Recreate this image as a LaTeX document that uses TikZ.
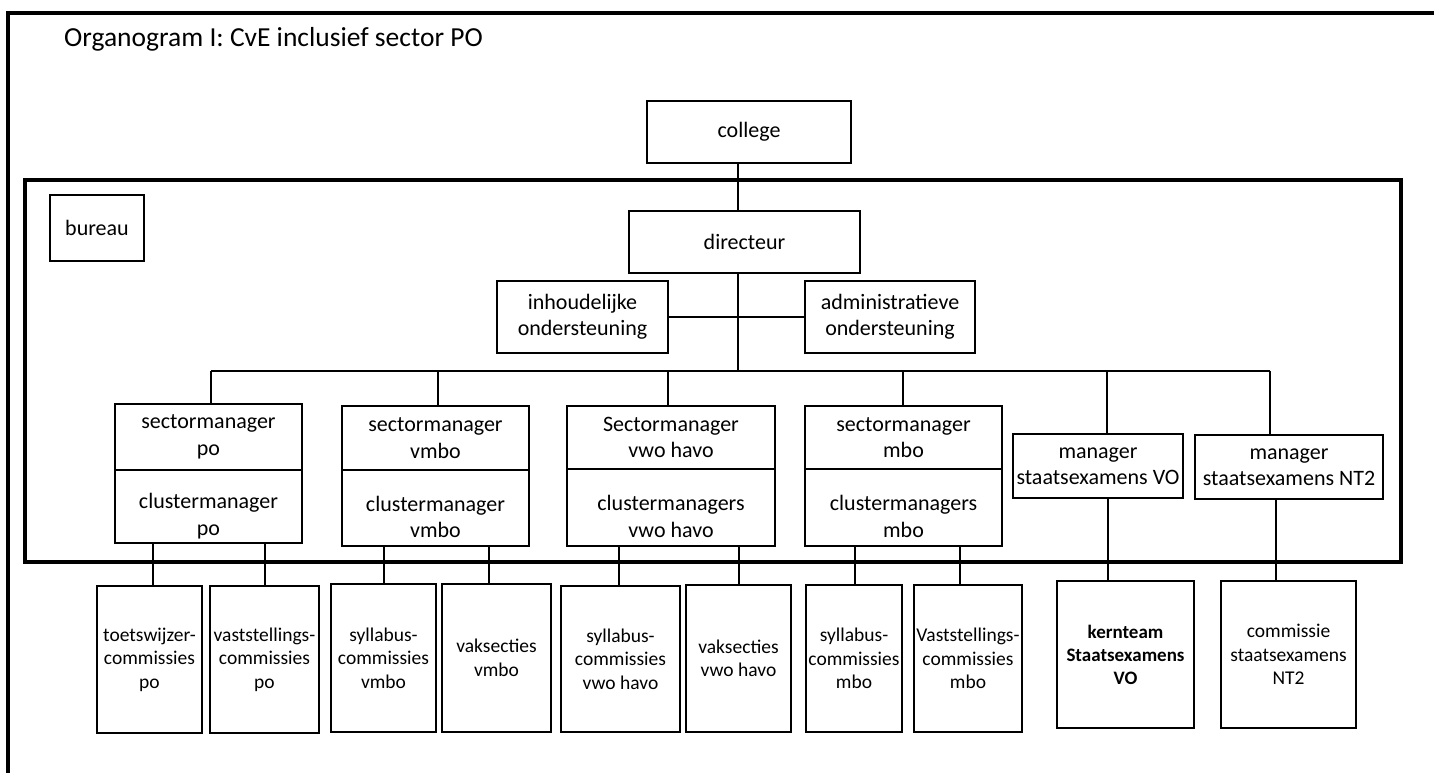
\documentclass[tikz,border=0pt]{standalone}
\usepackage{fontspec}
\setmainfont{Carlito}
\begin{document}
\begin{tikzpicture}[x=1pt,y=-1pt,
  box/.style={draw=black,line width=1.6pt,rectangle,inner sep=0pt,align=center,
    font=\fontsize{22}{26.5}\selectfont},
  lowbox/.style={draw=black,line width=1.6pt,rectangle,inner sep=0pt,align=center,
    font=\fontsize{19.5}{23.5}\selectfont},
  txt/.style={inner sep=0pt,align=center,font=\fontsize{22}{26.5}\selectfont},
  conn/.style={draw=black,line width=1.6pt}]
\useasboundingbox (0,0) rectangle (1434,773);
\fill[white] (0,0) rectangle (1434,773);
% outer frame (cropped)
\draw[line width=3.2pt] (8,773) -- (8,13) -- (1434,13);
% title
\node[anchor=base west,inner sep=0pt,font=\fontsize{27.5}{32}\selectfont] (title) at (64,46.5) {Organogram I: CvE inclusief sector PO};
% inner bureau frame
\draw[line width=4.5pt] (25,180) rectangle (1401,562);
% top
\node[box,minimum width=204pt,minimum height=62pt] (college) at (749,132) {college};
\node[box,minimum width=231pt,minimum height=62pt] (dir) at (744.5,242) {directeur};
\node[box,minimum width=94pt,minimum height=66pt] (bureau) at (97,228) {bureau};
\node[box,minimum width=171pt,minimum height=72pt] (inh) at (582.5,317) {inhoudelijke\\ondersteuning};
\node[box,minimum width=170pt,minimum height=72pt] (adm) at (890,317) {administratieve\\ondersteuning};
% sector managers (two-part boxes)
\node[box,minimum width=187pt,minimum height=66pt] (spo) at (208.5,437) {sectormanager\\po};
\node[box,minimum width=187pt,minimum height=73pt] (cpo) at (208.5,506.5) {};
\node[txt] at ([yshift=-9.5pt]cpo.center) {clustermanager\\po};
\node[box,minimum width=187pt,minimum height=64pt] (svmbo) at (435.5,438) {sectormanager\\vmbo};
\node[box,minimum width=187pt,minimum height=76pt] (cvmbo) at (435.5,508) {};
\node[txt] at ([yshift=-9pt]cvmbo.center) {clustermanager\\vmbo};
\node[box,minimum width=208pt,minimum height=63pt] (svwo) at (671,437.5) {Sectormanager\\vwo havo};
\node[box,minimum width=208pt,minimum height=77pt] (cvwo) at (671,507.5) {};
\node[txt] at ([yshift=-9pt]cvwo.center) {clustermanagers\\vwo havo};
\node[box,minimum width=197pt,minimum height=63pt] (smbo) at (903.5,437.5) {sectormanager\\mbo};
\node[box,minimum width=197pt,minimum height=77pt] (cmbo) at (903.5,507.5) {};
\node[txt] at ([yshift=-9pt]cmbo.center) {clustermanagers\\mbo};
\node[box,minimum width=170pt,minimum height=64pt] (mvo) at (1098,466) {manager\\staatsexamens VO};
\node[box,minimum width=188pt,minimum height=64pt] (mnt) at (1289,467) {manager\\staatsexamens NT2};
% lower boxes
\node[lowbox,minimum width=105pt,minimum height=147pt] (toets) at (149.5,659.5) {toetswijzer-\\commissies\\po};
\node[lowbox,minimum width=109pt,minimum height=147pt] (vastpo) at (264.5,659.5) {vaststellings-\\commissies\\po};
\node[lowbox,minimum width=105pt,minimum height=148pt] (syllvmbo) at (383.5,658) {syllabus-\\commissies\\vmbo};
\node[lowbox,minimum width=109pt,minimum height=148pt] (vaksvmbo) at (496.5,658) {vaksecties\\vmbo};
\node[lowbox,minimum width=119pt,minimum height=146pt] (syllvwo) at (620.5,659) {syllabus-\\commissies\\vwo havo};
\node[lowbox,minimum width=105pt,minimum height=147pt] (vaksvwo) at (738.5,658.5) {vaksecties\\vwo havo};
\node[lowbox,minimum width=96pt,minimum height=147pt] (syllmbo) at (854,658.5) {syllabus-\\commissies\\mbo};
\node[lowbox,minimum width=108pt,minimum height=147pt] (vastmbo) at (968,658.5) {Vaststellings-\\commissies\\mbo};
\node[lowbox,line width=2.2pt,minimum width=137pt,minimum height=147pt,font=\fontsize{19}{23}\selectfont\bfseries] (kern) at (1125.5,654.5) {kernteam\\Staatsexamens\\VO};
\node[lowbox,minimum width=135pt,minimum height=147pt] (comm) at (1288.5,654.5) {commissie\\staatsexamens\\NT2};
% coordinates
\coordinate (dx) at (738,0);
\coordinate (busL) at (211,371);
\coordinate (busR) at (1270,371);
\coordinate (b1) at (211,371);
\coordinate (b2) at (438,371);
\coordinate (b3) at (668,371);
\coordinate (b4) at (903,371);
\coordinate (b5) at (1107,371);
\coordinate (b6) at (1270,371);
\coordinate (l1) at (153,0);
\coordinate (l2) at (265,0);
\coordinate (l3) at (384,0);
\coordinate (l4) at (489,0);
\coordinate (l5) at (619,0);
\coordinate (l6) at (739,0);
\coordinate (l7) at (855,0);
\coordinate (l8) at (960,0);
\coordinate (l9) at (1108,0);
\coordinate (l10) at (1276,0);
% connectors
\draw[conn] (dx |- college.south) -- (dx |- dir.north);
\draw[conn] (dx |- dir.south) -- (dx |- busL);
\draw[conn] (inh.east) -- (adm.west);
\draw[conn] (busL) -- (busR);
\draw[conn] (b1) -- (b1 |- spo.north);
\draw[conn] (b2) -- (b2 |- svmbo.north);
\draw[conn] (b3) -- (b3 |- svwo.north);
\draw[conn] (b4) -- (b4 |- smbo.north);
\draw[conn] (b5) -- (b5 |- mvo.north);
\draw[conn] (b6) -- (b6 |- mnt.north);
\draw[conn] (l1 |- cpo.south) -- (l1 |- toets.north);
\draw[conn] (l2 |- cpo.south) -- (l2 |- vastpo.north);
\draw[conn] (l3 |- cvmbo.south) -- (l3 |- syllvmbo.north);
\draw[conn] (l4 |- cvmbo.south) -- (l4 |- vaksvmbo.north);
\draw[conn] (l5 |- cvwo.south) -- (l5 |- syllvwo.north);
\draw[conn] (l6 |- cvwo.south) -- (l6 |- vaksvwo.north);
\draw[conn] (l7 |- cmbo.south) -- (l7 |- syllmbo.north);
\draw[conn] (l8 |- cmbo.south) -- (l8 |- vastmbo.north);
\draw[conn] (l9 |- mvo.south) -- (l9 |- kern.north);
\draw[conn] (l10 |- mnt.south) -- (l10 |- comm.north);
\end{tikzpicture}
\end{document}
